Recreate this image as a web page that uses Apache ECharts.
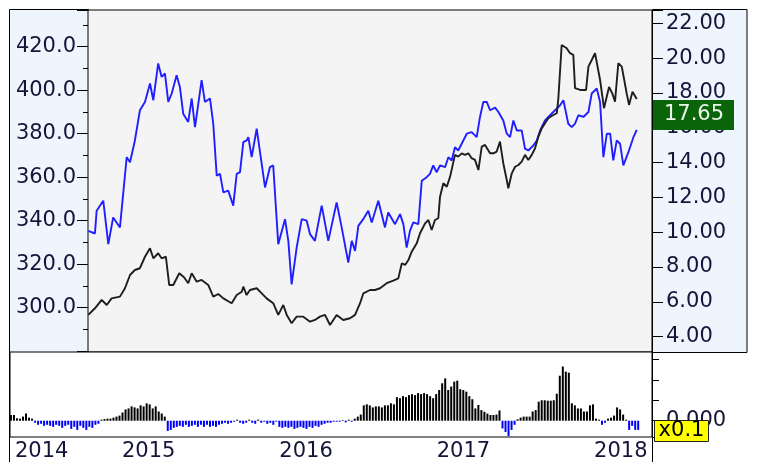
<!DOCTYPE html>
<html><head><meta charset="utf-8">
<script src="https://cdn.jsdelivr.net/npm/echarts@6/dist/echarts.min.js"></script>
<style>html,body{margin:0;padding:0;background:#fff}#c{width:757px;height:462px}</style>
</head><body><div id="c"></div><script>
// ---- data (time in fractional years) ----
const blueT = [2014.818,2014.860,2014.871,2014.913,2014.945,2014.976,2015.019,2015.062,2015.083,2015.114,
2015.146,2015.178,2015.210,2015.231,2015.262,2015.284,2015.305,2015.326,2015.348,2015.379,
2015.400,2015.421,2015.453,2015.475,2015.496,2015.538,2015.559,2015.591,2015.612,2015.634,
2015.655,2015.676,2015.707,2015.739,2015.761,2015.782,2015.803,2015.824,2015.835,2015.856,
2015.888,2015.898,2015.941,2015.972,2015.993,2016.025,2016.068,2016.089,2016.110,2016.142,
2016.174,2016.206,2016.227,2016.258,2016.301,2016.343,2016.396,2016.428,2016.470,2016.492,
2016.513,2016.534,2016.565,2016.597,2016.619,2016.661,2016.703,2016.724,2016.767,2016.799,
2016.820,2016.841,2016.862,2016.883,2016.915,2016.937,2016.968,2016.989,2017.010,2017.032,
2017.053,2017.085,2017.106,2017.127,2017.148,2017.169,2017.201,2017.223,2017.254,2017.286,
2017.307,2017.328,2017.350,2017.371,2017.403,2017.424,2017.455,2017.477,2017.498,2017.519,
2017.541,2017.572,2017.593,2017.614,2017.646,2017.668,2017.689,2017.720,2017.752,2017.784,
2017.816,2017.837,2017.868,2017.890,2017.911,2017.932,2017.964,2017.996,2018.017,2018.049,
2018.070,2018.091,2018.113,2018.134,2018.154,2018.176,2018.197,2018.218,2018.250,2018.282,
2018.303];
const blueV = [335.3,334.1,344.6,349.2,329.2,341.5,336.9,369.2,366.9,376.9,
390.8,394.6,403.1,395.4,412.3,406.1,407.7,394.6,398.5,406.9,
401.5,389.2,385.4,396.2,383.0,404.6,394.6,396.2,384.6,360.7,
361.5,353.0,353.8,346.9,361.5,362.3,376.1,376.9,378.4,369.2,
382.3,383.0,355.3,364.6,365.4,329.2,340.7,330.7,310.7,327.6,
340.7,340.0,333.8,330.7,346.9,330.7,348.4,336.9,320.7,330.7,
326.1,337.6,340.7,344.6,339.2,349.2,336.9,343.8,338.4,343.0,
338.4,327.6,335.3,339.2,338.4,358.4,360.0,361.5,365.4,362.3,
365.4,364.6,369.2,367.7,373.8,372.3,376.9,380.0,380.7,378.4,
387.7,394.6,394.6,390.8,392.0,390.0,386.1,380.0,378.4,386.1,
381.5,381.5,373.1,372.3,374.6,376.9,381.5,386.1,388.5,390.8,
393.1,395.4,384.6,383.0,384.6,388.5,387.7,390.0,398.5,400.8,
394.6,369.2,380.0,380.0,367.7,376.9,375.4,365.4,371.5,378.4,
381.8];
const blackT = [2014.818,2014.860,2014.903,2014.935,2014.966,2015.019,2015.051,2015.083,2015.114,2015.146,
2015.178,2015.210,2015.231,2015.262,2015.284,2015.311,2015.332,2015.358,2015.396,2015.426,
2015.453,2015.475,2015.507,2015.538,2015.580,2015.612,2015.644,2015.676,2015.729,2015.761,
2015.793,2015.803,2015.824,2015.845,2015.888,2015.920,2015.951,2015.993,2016.025,2016.057,
2016.079,2016.110,2016.142,2016.184,2016.227,2016.258,2016.290,2016.322,2016.354,2016.396,
2016.438,2016.481,2016.513,2016.545,2016.566,2016.608,2016.640,2016.672,2016.714,2016.756,
2016.788,2016.810,2016.831,2016.852,2016.873,2016.905,2016.926,2016.958,2016.979,2017.000,
2017.021,2017.042,2017.053,2017.074,2017.096,2017.117,2017.148,2017.169,2017.191,2017.212,
2017.233,2017.254,2017.275,2017.297,2017.318,2017.339,2017.371,2017.392,2017.413,2017.434,
2017.455,2017.477,2017.487,2017.509,2017.530,2017.551,2017.572,2017.593,2017.614,2017.636,
2017.657,2017.678,2017.700,2017.720,2017.741,2017.773,2017.795,2017.805,2017.826,2017.858,
2017.879,2017.900,2017.911,2017.943,2017.981,2017.996,2018.017,2018.038,2018.070,2018.095,
2018.127,2018.149,2018.165,2018.186,2018.208,2018.239,2018.254,2018.276,2018.303];
const blackV = [5.25,5.63,6.11,5.82,6.20,6.30,6.78,7.54,7.83,7.93,
8.59,9.08,8.50,8.79,8.50,8.59,6.97,6.97,7.64,7.41,
7.07,7.64,7.16,7.26,6.97,6.30,6.45,6.20,5.92,6.39,
6.58,6.87,6.39,6.68,6.78,6.49,6.20,5.92,5.25,5.82,
5.25,4.77,5.15,5.15,4.86,4.96,5.15,5.25,4.67,5.25,
4.96,5.06,5.25,5.92,6.49,6.68,6.68,6.78,7.07,7.22,
7.35,8.21,8.12,8.40,8.88,9.36,9.94,10.51,10.70,10.13,
10.70,10.80,12.04,12.81,12.61,13.19,14.44,14.34,14.53,14.44,
14.53,14.25,14.15,13.57,14.91,15.01,14.53,14.53,14.63,15.20,
13.96,13.00,12.52,13.38,13.76,13.86,14.05,14.44,14.15,14.44,
14.82,15.49,15.97,16.26,16.54,16.73,16.83,17.69,20.75,20.56,
20.28,20.18,18.27,18.17,18.17,19.51,19.89,20.28,18.74,17.12,
18.34,17.94,17.50,19.70,19.51,17.98,17.31,18.07,17.65];
// weekly histogram (lower panel)
const histStart = 2014.326;
const histStepDays = 7;
const histV = [0.28,0.28,0.12,0.1,0.2,0.35,0.15,0.1,
-0.1,-0.2,-0.15,-0.25,-0.2,-0.25,-0.3,-0.2,-0.25,-0.35,-0.25,-0.2,-0.4,-0.3,-0.45,-0.25,-0.35,-0.45,-0.3,-0.35,-0.2,-0.15,
0.05,0.08,0.1,0.1,0.15,
0.2,0.25,0.4,0.55,0.6,0.7,0.65,0.6,0.75,0.7,0.85,0.8,0.6,0.7,0.45,0.35,0.2,
-0.5,-0.45,-0.35,-0.3,-0.25,-0.3,-0.2,-0.3,-0.25,-0.2,-0.3,-0.2,-0.3,-0.2,-0.3,-0.25,-0.3,-0.2,
-0.15,-0.1,-0.15,-0.1,-0.05,0.05,-0.1,-0.15,-0.1,0.05,-0.1,-0.15,0.05,-0.1,-0.05,-0.15,-0.1,-0.2,-0.05,
-0.3,-0.35,-0.3,-0.35,-0.3,-0.4,-0.35,-0.3,-0.35,-0.4,-0.3,-0.35,-0.25,-0.3,-0.2,-0.15,-0.1,-0.1,-0.05,
-0.05,-0.05,0.03,-0.08,0.05,-0.05,0.1,0.2,0.3,
0.75,0.8,0.75,0.65,0.7,0.7,0.65,0.75,0.75,0.85,0.8,1.15,1.1,1.2,1.15,1.25,1.3,1.25,1.35,1.3,1.35,1.3,1.2,1.1,
1.3,1.5,1.83,2.07,1.5,1.67,1.91,1.96,1.54,1.5,1.42,1.2,1.05,0.6,0.77,0.52,0.44,0.35,0.28,0.28,0.3,0.5,
-0.38,-0.55,-0.75,-0.45,-0.2,
0.07,0.15,0.2,0.2,0.2,0.45,0.52,0.93,1.0,1.0,0.98,0.98,1.0,1.32,
2.2,2.65,2.4,2.35,0.85,0.75,0.6,0.6,0.45,0.45,0.75,0.8,0.1,0.05,
-0.2,-0.1,0.1,0.15,0.25,0.65,0.55,0.3,0.05,-0.45,-0.25,-0.45,-0.45];
const lastPrice = 17.65;
const histScaleText = 'x0.1';
const zeroLabel = '0.000';

// ---- chart ----
const FONT = '"DejaVu Sans", Verdana, sans-serif';
const TXT = '#15153a';
const chart = echarts.init(document.getElementById('c'), null, {renderer: 'canvas'});
const histStep = histStepDays / 365.25;
const option = {
  animation: false,
  backgroundColor: '#ffffff',
  grid: [
    {left: 88, right: 105, top: 10, bottom: 110, show: true, backgroundColor: '#f4f4f4', borderColor: '#000', borderWidth: 1, z: 1},
    {left: 10, right: 105, top: 352, bottom: 25, show: true, backgroundColor: '#ffffff', borderColor: '#000', borderWidth: 1, z: 1}
  ],
  xAxis: [
    {gridIndex: 0, type: 'value', min: 2014.816, max: 2018.400, show: false},
    {gridIndex: 1, type: 'value', min: 2014.320, max: 2018.400, splitNumber: 4,
      axisLine: {show: true, lineStyle: {color: '#000', width: 1}},
      axisTick: {show: true, inside: true, length: 10, lineStyle: {color: '#000', width: 1}},
      splitLine: {show: true, lineStyle: {color: '#dcdcdc', width: 1}},
      axisLabel: {show: true, showMinLabel: true, showMaxLabel: false, align: 'left', padding: [0, 0, 0, 5], margin: 4,
        fontFamily: FONT, fontSize: 21, color: TXT,
        formatter: v => String(Math.floor(v + 1e-6))}}
  ],
  yAxis: [
    {gridIndex: 0, type: 'value', position: 'left', min: 279.6, max: 436.9, splitNumber: 8,
      splitLine: {show: false},
      axisLine: {show: true, lineStyle: {color: '#000'}},
      axisTick: {show: true, length: 11, lineStyle: {color: '#000'}},
      minorTick: {show: true, splitNumber: 2, length: 5, lineStyle: {color: '#000'}},
      axisLabel: {margin: 12, fontFamily: FONT, fontSize: 21, color: TXT,
        formatter: v => (v >= 290 && v <= 430) ? v.toFixed(1) : ''}},
    {gridIndex: 0, type: 'value', position: 'right', min: 3.12, max: 22.76, splitNumber: 10,
      splitLine: {show: false},
      axisLine: {show: true, lineStyle: {color: '#000'}},
      axisTick: {show: true, length: 11, lineStyle: {color: '#000'}},
      axisLabel: {margin: 14, fontFamily: FONT, fontSize: 21, color: TXT,
        formatter: v => (Math.abs(v - Math.round(v)) < 1e-6 && v >= 4 && v <= 22) ? v.toFixed(2) : ''}},
    {gridIndex: 1, type: 'value', position: 'right', min: -0.797, max: 3.36, splitNumber: 4,
      splitLine: {show: false},
      axisLine: {show: true, lineStyle: {color: '#000'}},
      axisTick: {show: true, length: 7, lineStyle: {color: '#000'}},
      axisLabel: {margin: 14, fontFamily: FONT, fontSize: 21, color: TXT,
        formatter: v => Math.abs(v) < 1e-9 ? zeroLabel : ''}}
  ],
  series: [
    {type: 'line', xAxisIndex: 0, yAxisIndex: 0, data: blueT.map((t, i) => [t, blueV[i]]),
      showSymbol: false, symbol: 'none', lineStyle: {color: '#1f1fff', width: 1.9}, itemStyle: {color: '#1f1fff'}, z: 3},
    {type: 'line', xAxisIndex: 0, yAxisIndex: 1, data: blackT.map((t, i) => [t, blackV[i]]),
      showSymbol: false, symbol: 'none', lineStyle: {color: '#1e1e1e', width: 1.9}, itemStyle: {color: '#1e1e1e'}, z: 4},
    {type: 'bar', xAxisIndex: 1, yAxisIndex: 2, barWidth: 2,
      data: histV.map((v, i) => [histStart + i * histStep, v]),
      itemStyle: {color: p => p.value[1] >= 0 ? '#000000' : '#0000ff'}, z: 3}
  ]
};
chart.setOption(option);

// annotation boxes on the right axis area
const yPrice = chart.convertToPixel({yAxisIndex: 1}, lastPrice);
const yZero = chart.convertToPixel({yAxisIndex: 2}, 0);
chart.setOption({
  graphic: [
    {type: 'rect', z: -10, shape: {x: 9.5, y: 9.5, width: 79, height: 343}, style: {fill: '#eef5fd', stroke: '#000', lineWidth: 1}},
    {type: 'rect', z: -10, shape: {x: 652.5, y: 9.5, width: 94.5, height: 343}, style: {fill: '#eef5fd', stroke: '#000', lineWidth: 1}},
    {type: 'line', z: 10, shape: {x1: 9.5, y1: 352, x2: 9.5, y2: 462}, style: {stroke: '#000', lineWidth: 1}},
    {type: 'line', z: 10, shape: {x1: 652.5, y1: 437, x2: 652.5, y2: 462}, style: {stroke: '#000', lineWidth: 1}},
    {type: 'rect', z: 100, shape: {x: 653, y: Math.round(yPrice) + 1, width: 81, height: 30}, style: {fill: '#0a640a'}},
    {type: 'text', z: 101, style: {text: lastPrice.toFixed(2), x: 694, y: Math.round(yPrice) + 16,
      align: 'center', verticalAlign: 'middle', textAlign: 'center', textVerticalAlign: 'middle',
      fill: '#e8f6e8', font: '21px "DejaVu Sans"'}},
    {type: 'rect', z: 100, shape: {x: 654.5, y: Math.round(yZero) - 0.5, width: 54, height: 21}, style: {fill: '#ffff00', stroke: '#222', lineWidth: 1}},
    {type: 'text', z: 101, style: {text: histScaleText, x: 681.5, y: Math.round(yZero) + 10,
      align: 'center', verticalAlign: 'middle', textAlign: 'center', textVerticalAlign: 'middle',
      fill: '#000', font: '21px "DejaVu Sans"'}}
  ]
});
</script></body></html>
